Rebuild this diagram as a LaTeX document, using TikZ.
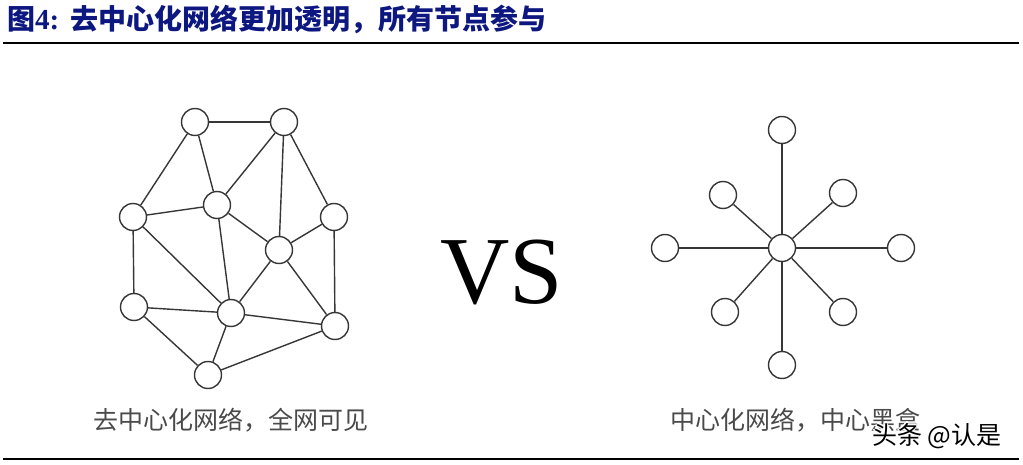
\documentclass[tikz,border=0pt]{standalone}
\usepackage{fontspec}
\setmainfont{Liberation Serif}
\newfontfamily\cjk{Noto Sans CJK SC}
\definecolor{navy}{HTML}{0D1780}
\definecolor{edgec}{HTML}{363636}
\definecolor{capc}{HTML}{4A4A4A}
\begin{document}
\begin{tikzpicture}[x=1pt,y=-1pt,
  vtx/.style={circle,draw=edgec,fill=white,line width=1.4pt,minimum size=27pt,inner sep=0pt},
  lnk/.style={draw=edgec,line width=1.4pt},
  captext/.style={font=\cjk\fontsize{25}{25}\selectfont,text=capc,inner sep=0pt},
  wm/.style={font=\cjk\fontsize{25}{25}\selectfont,inner sep=0pt}]
\useasboundingbox (0,0) rectangle (1023,465);
% title
\node[anchor=west,inner sep=0pt,text=navy] (title) at (7,19)
  {{\cjk\bfseries\fontsize{28}{28}\selectfont 图}{\bfseries\fontsize{29}{29}\selectfont 4:}\hspace{11pt}{\cjk\bfseries\fontsize{28}{28}\selectfont 去中心化网络更加透明，所有节点参与}};
\draw[line width=2pt] (3,43) -- (1019,43);
\draw[line width=2.6pt] (3,459) -- (1019,459);
% left network
\node[vtx] (a) at (195,122) {};
\node[vtx] (b) at (284,122) {};
\node[vtx] (c) at (133,217) {};
\node[vtx] (d) at (217,205) {};
\node[vtx] (e) at (334,217) {};
\node[vtx] (f) at (279,250) {};
\node[vtx] (g) at (134,307) {};
\node[vtx] (h) at (231,313) {};
\node[vtx] (i) at (335,326) {};
\node[vtx] (j) at (208,375) {};
\foreach \u/\v in {a/b,a/c,a/d,b/d,b/f,b/e,c/d,c/g,c/h,d/h,d/f,e/f,e/i,f/h,f/i,g/h,g/j,h/j,h/i,i/j}
  \path[lnk] (\u) -- (\v);
% VS
\node[inner sep=0pt,font=\fontsize{96}{96}\selectfont] (vs) at (502,272) {VS};
% right star
\node[vtx] (s0) at (782,248) {};
\node[vtx] (s1) at (782,130) {};
\node[vtx] (s2) at (843,193) {};
\node[vtx] (s3) at (901,248) {};
\node[vtx] (s4) at (843,312) {};
\node[vtx] (s5) at (782,365) {};
\node[vtx] (s6) at (725,312) {};
\node[vtx] (s7) at (665,248) {};
\node[vtx] (s8) at (723,195) {};
\foreach \k in {1,...,8}
  \path[lnk] (s0) -- (s\k);
% captions
\node[captext] (capl) at (231,420) {去中心化网络，全网可见};
\node[captext] (capr) at (795,420) {中心化网络，中心黑盒};
% watermark
\foreach \dx/\dy in {-1.5/0,1.5/0,0/-1.5,0/1.5}
  \node[wm,text=white,anchor=west] at (872+\dx,436+\dy) {头条 @认是};
\node[wm,text=black,anchor=west] (wmk) at (872,436) {头条 @认是};
\end{tikzpicture}
\end{document}
